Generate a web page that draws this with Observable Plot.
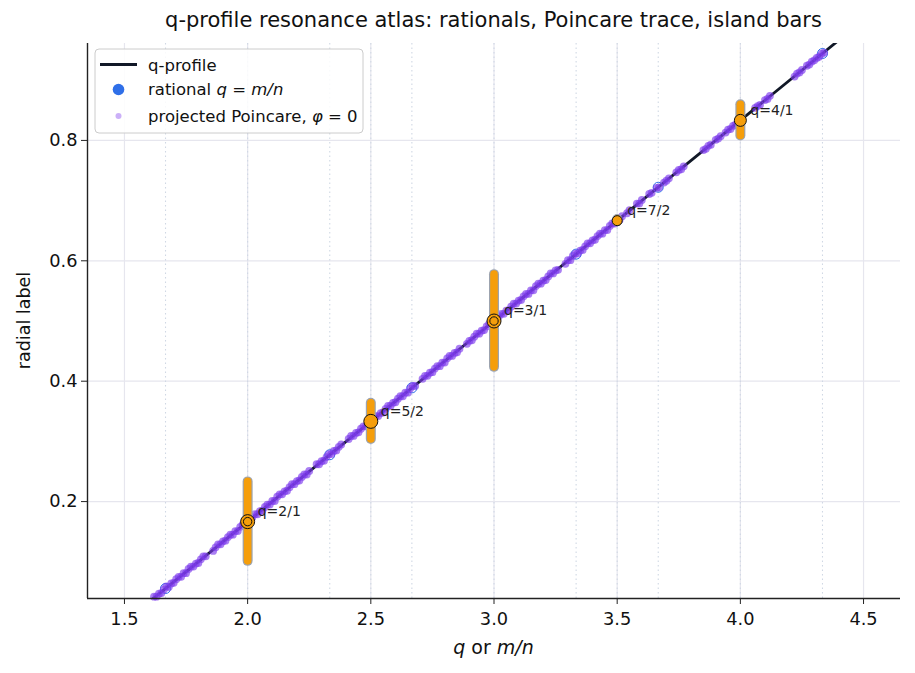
<!DOCTYPE html>
<html><head><meta charset="utf-8">
<script src="https://cdn.jsdelivr.net/npm/d3@7"></script>
<script src="https://cdn.jsdelivr.net/npm/@observablehq/plot@0.6"></script>
<style>body{margin:0;background:#fff;font-family:"DejaVu Sans",sans-serif}</style>
</head><body><div id="chart"></div>
<script>
// q-profile (linear)
const profileQ   = [1.5, 2.0, 2.5, 3.0, 3.5, 4.0, 4.5];
const profileRho = [0.0, 0.1667, 0.3333, 0.5, 0.6667, 0.8333, 1.0];
// rational surfaces q = m/n
const rationalM   = [5, 2, 7, 5, 8, 3, 10, 7, 11, 4, 13];
const rationalN   = [3, 1, 3, 2, 3, 1, 3, 2, 3, 1, 3];
const rationalRho = [0.0556, 0.1667, 0.2778, 0.3333, 0.3889, 0.5, 0.6111, 0.6667, 0.7222, 0.8333, 0.9444];
// islands
const islandLabels = ["q=2/1", "q=5/2", "q=3/1", "q=7/2", "q=4/1"];
const islandQ      = [2.0, 2.5, 3.0, 3.5, 4.0];
const islandRho    = [0.1667, 0.3333, 0.5, 0.6667, 0.8333];
const islandHalfW  = [0.066, 0.030, 0.077, 0.002, 0.026];
const islandR      = [7, 7, 7, 5, 6];
const islandRing   = [true, false, true, false, false];
// projected Poincare points, phi = 0
const poincareQ = [
 1.62,1.63,1.64,1.65,1.66,1.67,1.68,1.69,1.70,1.71,1.72,1.73,1.74,1.75,1.76,1.77,1.78,1.79,1.80,1.81,1.82,1.83,
 1.86,1.87,1.88,1.89,1.90,1.91,1.92,1.93,1.94,1.95,1.96,1.97,1.98,1.99,2.00,2.01,2.02,2.03,2.04,2.05,2.06,2.07,2.08,2.09,
 2.10,2.11,2.12,2.13,2.14,2.15,2.16,2.17,2.18,2.19,2.20,2.21,2.22,2.23,2.24,2.25,
 2.28,2.29,2.30,2.31,2.32,2.33,2.34,2.35,2.36,2.37,2.38,
 2.41,2.42,2.43,2.44,2.45,2.46,2.47,2.48,2.49,2.50,2.51,2.52,2.53,2.54,2.55,2.56,2.57,2.58,2.59,2.60,2.61,2.62,2.63,2.64,2.65,2.66,2.67,2.68,
 2.71,2.72,2.73,2.74,2.75,2.76,2.77,2.78,2.79,2.80,2.81,2.82,2.83,2.84,2.85,2.86,
 2.89,2.90,2.91,2.92,2.93,2.94,2.95,2.96,2.97,2.98,2.99,3.00,3.01,3.02,3.03,3.04,3.05,3.06,3.07,3.08,3.09,3.10,3.11,3.12,3.13,3.14,3.15,3.16,3.17,3.18,3.19,3.20,3.21,3.22,3.23,3.24,3.25,3.26,
 3.29,3.30,3.31,3.32,3.33,3.34,3.35,3.36,3.37,3.38,3.39,3.40,3.41,3.42,3.43,3.44,3.45,3.46,3.47,3.48,3.49,3.50,3.51,3.52,
 3.54,3.55,3.58,3.59,3.60,3.63,3.64,3.66,3.67,3.69,3.70,3.71,3.74,3.75,3.76,3.77,
 3.85,3.86,3.87,3.88,3.90,3.91,3.92,3.94,3.95,3.96,3.97,3.98,3.99,
 4.06,4.07,4.08,4.10,4.11,4.12,4.22,4.23,4.24,4.25,4.27,4.28,4.29,4.30,4.31,4.32,4.33,4.34];
const poincareRho = [
 0.042,0.042,0.047,0.048,0.054,0.059,0.058,0.064,0.065,0.071,0.075,0.075,0.081,0.081,0.088,0.092,0.092,0.097,0.098,0.104,0.109,0.109,
 0.118,0.124,0.129,0.129,0.134,0.135,0.141,0.145,0.145,0.151,0.151,0.158,0.162,0.162,0.167,0.168,0.174,0.179,0.179,0.184,0.185,0.191,0.195,0.195,
 0.201,0.201,0.208,0.212,0.212,0.217,0.218,0.224,0.229,0.229,0.234,0.235,0.241,0.245,0.245,0.251,
 0.262,0.262,0.267,0.268,0.274,0.279,0.279,0.284,0.285,0.291,0.295,
 0.304,0.309,0.309,0.314,0.315,0.321,0.325,0.325,0.331,0.333,0.338,0.342,0.342,0.347,0.348,0.354,0.359,0.359,0.364,0.365,0.371,0.375,0.375,0.381,0.381,0.388,0.392,0.392,
 0.404,0.409,0.409,0.414,0.415,0.421,0.425,0.425,0.431,0.431,0.438,0.442,0.442,0.447,0.448,0.454,
 0.462,0.467,0.468,0.474,0.479,0.479,0.484,0.485,0.491,0.495,0.495,0.501,0.501,0.508,0.512,0.512,0.517,0.518,0.524,0.529,0.529,0.534,0.535,0.541,0.545,0.545,0.551,0.551,0.558,0.562,0.562,0.567,0.568,0.574,0.579,0.579,0.584,0.585,
 0.595,0.601,0.601,0.608,0.612,0.612,0.617,0.618,0.624,0.629,0.629,0.634,0.635,0.641,0.645,0.645,0.651,0.651,0.658,0.662,0.662,0.667,0.668,0.674,
 0.679,0.684,0.695,0.695,0.701,0.711,0.713,0.721,0.722,0.730,0.733,0.737,0.747,0.751,0.752,0.757,
 0.784,0.786,0.791,0.793,0.801,0.803,0.807,0.813,0.818,0.819,0.824,0.826,0.831,
 0.854,0.857,0.859,0.867,0.869,0.874,0.906,0.911,0.913,0.917,0.924,0.926,0.931,0.933,0.937,0.939,0.944,0.946];
const xTicks = [1.5, 2.0, 2.5, 3.0, 3.5, 4.0, 4.5];
const yTicks = [0.2, 0.4, 0.6, 0.8];
const xDomain = [1.35, 4.65];
const yDomain = [0.039, 0.961];

const profile = profileQ.map((q, i) => ({q, rho: profileRho[i]}));
const rationals = rationalM.map((m, i) => ({q: m / rationalN[i], rho: rationalRho[i]}));
const islands = islandQ.map((q, i) => ({q, rho: islandRho[i], lo: islandRho[i] - islandHalfW[i], hi: islandRho[i] + islandHalfW[i], label: islandLabels[i], r: islandR[i], ring: islandRing[i]}));
const poincare = poincareQ.map((q, i) => ({q, rho: poincareRho[i]}));

const chart = Plot.plot({
  width: 915, height: 673,
  marginLeft: 87, marginRight: 15, marginTop: 43, marginBottom: 75,
  style: {fontFamily: "DejaVu Sans", fontSize: "17.8px", color: "#222", background: "#fff"},
  x: {domain: xDomain},
  y: {domain: yDomain},
  r: {type: "identity"},
  marks: [
    Plot.gridX(xTicks, {stroke: "#e6e6ee", strokeOpacity: 1, strokeWidth: 1.2}),
    Plot.gridY(yTicks, {stroke: "#e6e6ee", strokeOpacity: 1, strokeWidth: 1.2}),
    Plot.ruleX(rationals, {x: "q", stroke: "#d0d8e4", strokeWidth: 1.1, strokeDasharray: "1.5,3"}),
    Plot.line(profile, {x: "q", y: "rho", stroke: "#111827", strokeWidth: 2.8, clip: true}),
    Plot.dot(rationals, {x: "q", y: "rho", r: 5, stroke: "#2f6fe8", strokeWidth: 1, fill: "none"}),
    Plot.dot(poincare, {x: "q", y: "rho", r: 3.9, fill: "#7c3aed", fillOpacity: 0.65, stroke: "none"}),
    Plot.ruleX(islands, {x: "q", y1: "lo", y2: "hi", stroke: "#9ca3af", strokeWidth: 10, strokeLinecap: "round"}),
    Plot.ruleX(islands, {x: "q", y1: "lo", y2: "hi", stroke: "#f59e0b", strokeWidth: 7.6, strokeLinecap: "round"}),
    Plot.dot(islands, {x: "q", y: "rho", r: "r", fill: "#f59e0b", stroke: "#111", strokeWidth: 1}),
    Plot.dot(islands.filter(d => d.ring), {x: "q", y: "rho", r: 4.2, fill: "none", stroke: "#111", strokeWidth: 1}),
    Plot.text(islands, {x: "q", y: "rho", text: "label", dx: 10, dy: -10, textAnchor: "start", fontSize: 14, fill: "#222"}),
    Plot.axisX(xTicks, {tickFormat: d3.format(".1f"), tickSize: 6, tickPadding: 8, label: null, fill: "#111"}),
    Plot.axisY(yTicks, {tickFormat: d3.format(".1f"), tickSize: 6, tickPadding: 4, label: null, fill: "#111"}),
    Plot.ruleY([yDomain[0]], {stroke: "#222", strokeWidth: 1.4}),
    Plot.ruleX([xDomain[0]], {stroke: "#222", strokeWidth: 1.4})
  ]
});
document.getElementById("chart").appendChild(chart);

const svg = d3.select(chart);
const ff = "DejaVu Sans";
svg.append("text").attr("x", 493.5).attr("y", 27).attr("text-anchor", "middle")
  .attr("font-family", ff).attr("font-size", 21).attr("fill", "#111")
  .text("q-profile resonance atlas: rationals, Poincare trace, island bars");
const xl = svg.append("text").attr("x", 493.5).attr("y", 654).attr("text-anchor", "middle")
  .attr("font-family", ff).attr("font-size", 19).attr("fill", "#111");
xl.append("tspan").attr("font-style", "italic").text("q");
xl.append("tspan").text(" or ");
xl.append("tspan").attr("font-style", "italic").text("m/n");
svg.append("text").attr("transform", "translate(30,320.5) rotate(-90)").attr("text-anchor", "middle")
  .attr("font-family", ff).attr("font-size", 17.5).attr("fill", "#111").text("radial label");

// legend
const lg = svg.append("g");
lg.append("rect").attr("x", 95).attr("y", 49).attr("width", 268).attr("height", 84).attr("rx", 4)
  .attr("fill", "#fff").attr("fill-opacity", 0.85).attr("stroke", "#cccccc");
lg.append("line").attr("x1", 100).attr("x2", 137).attr("y1", 64.5).attr("y2", 64.5).attr("stroke", "#111827").attr("stroke-width", 2.8);
lg.append("circle").attr("cx", 118.5).attr("cy", 89.5).attr("r", 5.8).attr("fill", "#2f6fe8");
lg.append("circle").attr("cx", 118.5).attr("cy", 116).attr("r", 3).attr("fill", "#7c3aed").attr("fill-opacity", 0.4);
const lt = (y) => lg.append("text").attr("x", 148).attr("y", y).attr("text-anchor", "start")
  .attr("font-family", ff).attr("font-size", 16.5).attr("fill", "#111");
lt(70.5).text("q-profile");
const t2 = lt(95); t2.append("tspan").text("rational "); t2.append("tspan").attr("font-style", "italic").text("q");
t2.append("tspan").text(" = "); t2.append("tspan").attr("font-style", "italic").text("m/n");
const t3 = lt(121.5); t3.append("tspan").text("projected Poincare, "); t3.append("tspan").attr("font-style", "italic").text("φ");
t3.append("tspan").text(" = 0");
</script></body></html>
